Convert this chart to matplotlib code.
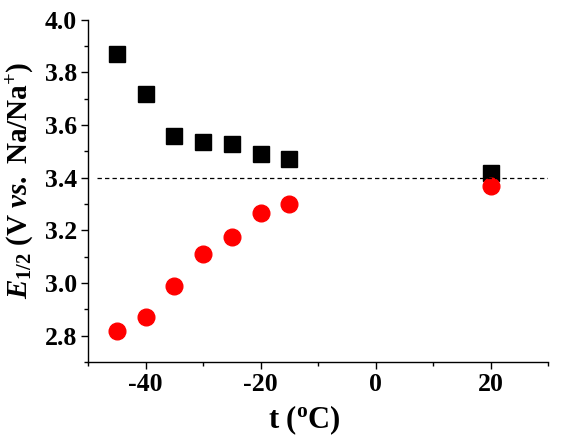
import matplotlib
matplotlib.use("Agg")
import matplotlib.pyplot as plt
from matplotlib.ticker import MultipleLocator, FormatStrFormatter

t = [-45, -40, -35, -30, -25, -20, -15, 20]
e_black = [3.87, 3.72, 3.56, 3.535, 3.53, 3.49, 3.47, 3.42]
e_red = [2.82, 2.87, 2.99, 3.11, 3.175, 3.265, 3.30, 3.37]
ref_line = 3.4

plt.rcParams['font.family'] = ['Liberation Serif', 'DejaVu Serif']
plt.rcParams['font.weight'] = 'bold'
plt.rcParams['axes.unicode_minus'] = False
plt.rcParams['mathtext.fontset'] = 'custom'
plt.rcParams['mathtext.rm'] = 'Liberation Serif:bold'
plt.rcParams['mathtext.it'] = 'Liberation Serif:italic:bold'
plt.rcParams['mathtext.bf'] = 'Liberation Serif:bold'

fig = plt.figure(figsize=(5.64, 4.40), dpi=100)
ax = fig.add_axes([0.156, 0.177, 0.816, 0.778])

ax.plot(t, e_black, 's', color='black', markersize=11, linestyle='none')
ax.plot(t, e_red, 'o', color='#ff0000', markersize=12, linestyle='none')
ax.plot([-48.5, 30], [ref_line, ref_line], linestyle=(0, (3.5, 2.5)), color='black', linewidth=0.9)

ax.set_xlim(-50, 30)
ax.set_ylim(2.7, 4.0)
ax.xaxis.set_major_locator(MultipleLocator(20))
ax.xaxis.set_minor_locator(MultipleLocator(10))
ax.yaxis.set_major_locator(MultipleLocator(0.2))
ax.yaxis.set_minor_locator(MultipleLocator(0.1))
ax.yaxis.set_major_formatter(FormatStrFormatter('%.1f'))
ax.xaxis.set_major_formatter(FormatStrFormatter('%d'))

for s in ['top', 'right']:
    ax.spines[s].set_visible(False)
for s in ['left', 'bottom']:
    ax.spines[s].set_linewidth(1.0)
ax.tick_params(which='major', direction='out', length=5, width=1.0, labelsize=18.5, pad=3)
ax.tick_params(which='minor', direction='out', length=3, width=1.0)
for lbl in ax.get_xticklabels() + ax.get_yticklabels():
    lbl.set_fontweight('bold')

ax.set_xlabel(r't ($\mathrm{^o}$C)', fontsize=22, fontweight='bold')
ax.set_ylabel(r'$E_{\mathrm{1/2}}$ (V $vs.$ Na/Na$^{\mathrm{+}}$)', fontsize=21, fontweight='bold')
ax.xaxis.set_label_coords(0.47, -0.12)
ax.yaxis.set_label_coords(-0.112, 0.53)

fig.savefig('out.png', dpi=100)
